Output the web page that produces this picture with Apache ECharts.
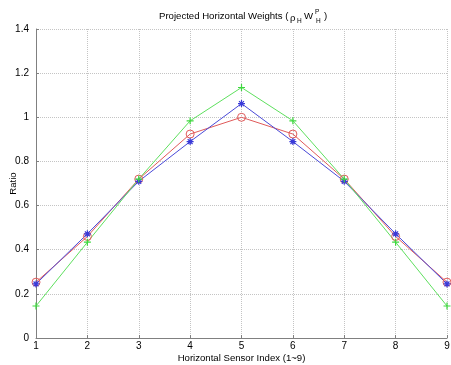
<!DOCTYPE html>
<html>
<head>
<meta charset="utf-8">
<script src="https://cdn.jsdelivr.net/npm/echarts@6/dist/echarts.min.js"></script>
<style>html,body{margin:0;padding:0;background:#fff}#c{width:451px;height:365px}</style>
</head>
<body>
<div id="c"></div>
<script>
var sensorIndex = [1, 2, 3, 4, 5, 6, 7, 8, 9];
var redCircle = [0.253, 0.46, 0.72, 0.924, 1.0, 0.924, 0.72, 0.46, 0.253];
var blueStar = [0.245, 0.472, 0.71, 0.89, 1.062, 0.89, 0.71, 0.472, 0.245];
var greenPlus = [0.145, 0.434, 0.72, 0.984, 1.135, 0.984, 0.72, 0.434, 0.145];
var yTicks = [0, 0.2, 0.4, 0.6, 0.8, 1, 1.2, 1.4];

function pairs(v) { return sensorIndex.map(function (x, i) { return [x, v[i]]; }); }

var plusPath = 'path://M5,0L5,10M0,5L10,5';
var starPath = 'path://M5,0L5,10M0,5L10,5M1.5,1.5L8.5,8.5M8.5,1.5L1.5,8.5';
var font = 'Liberation Sans, Arial, sans-serif';

function t(x, y, s, size) {
  return {type: 'text', x: x, y: y,
    style: {text: s, fontSize: size, fill: '#000', fontFamily: font,
      textVerticalAlign: 'middle', verticalAlign: 'middle'}};
}

var chart = echarts.init(document.getElementById('c'), null, {renderer: 'canvas'});
chart.setOption({
  animation: false,
  backgroundColor: '#fff',
  textStyle: {fontFamily: font},
  graphic: [
    t(159, 16, 'Projected Horizontal Weights (', 9.6),
    t(290, 18, 'ρ', 9.6),
    t(297, 21, 'H', 6.5),
    t(304, 16, 'W', 9.6),
    t(315, 12, 'P', 6.5),
    t(316, 21, 'H', 6.5),
    t(324, 16, ')', 9.6)
  ],
  grid: {left: 36, right: 4, top: 29, bottom: 27, outerBoundsMode: 'none', containLabel: false},
  xAxis: {
    type: 'value', min: 1, max: 9, interval: 1,
    name: 'Horizontal Sensor Index (1~9)', nameLocation: 'middle', nameGap: 15,
    nameMoveOverlap: false,
    nameTextStyle: {fontSize: 9.6, color: '#000', fontFamily: font},
    axisLine: {show: true, lineStyle: {color: '#808080', width: 1}},
    axisTick: {show: true, inside: true, length: 3, lineStyle: {color: '#808080'}},
    axisLabel: {fontSize: 10, color: '#000', margin: 3, fontFamily: font},
    splitLine: {show: true, lineStyle: {type: 'dotted', color: '#c4c4c4', width: 1}}
  },
  yAxis: {
    type: 'value', min: 0, max: 1.4, interval: 0.2,
    name: 'Ratio', nameLocation: 'middle', nameGap: 18,
    nameMoveOverlap: false,
    nameTextStyle: {fontSize: 9.6, color: '#000', fontFamily: font},
    axisLine: {show: true, lineStyle: {color: '#808080', width: 1}},
    axisTick: {show: true, inside: true, length: 3, lineStyle: {color: '#808080'}},
    axisLabel: {fontSize: 10, color: '#000', margin: 7, fontFamily: font,
      formatter: function (v) { return String(Math.round(v * 10) / 10); }},
    splitLine: {show: true, lineStyle: {type: 'dotted', color: '#c4c4c4', width: 1}}
  },
  series: [
    {
      type: 'line', data: pairs(redCircle), symbol: 'circle', symbolSize: 8,
      showAllSymbol: true,
      lineStyle: {color: '#e05a5a', width: 1},
      itemStyle: {color: 'rgba(0,0,0,0)', borderColor: '#e05a5a', borderWidth: 1}
    },
    {
      type: 'line', data: pairs(blueStar), symbol: starPath, symbolSize: 7,
      showAllSymbol: true,
      lineStyle: {color: '#4a4ad8', width: 1},
      itemStyle: {color: 'rgba(0,0,0,0)', borderColor: '#3a3ad8', borderWidth: 1.2}
    },
    {
      type: 'line', data: pairs(greenPlus), symbol: plusPath, symbolSize: 7,
      showAllSymbol: true,
      lineStyle: {color: '#5ee05e', width: 1},
      itemStyle: {color: 'rgba(0,0,0,0)', borderColor: '#3ed83e', borderWidth: 1.2}
    }
  ]
});
</script>
</body>
</html>
